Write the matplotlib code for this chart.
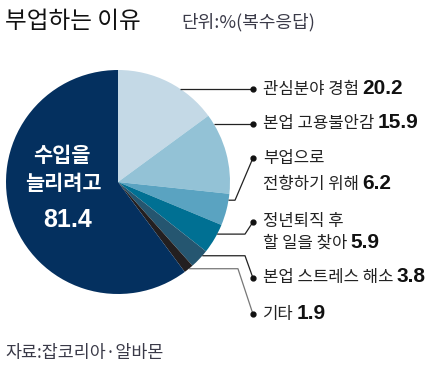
import matplotlib
matplotlib.use("Agg")
import numpy as np
import matplotlib.pyplot as plt

# --- Data ---
labels_kr = [["관심분야 경험"], ["본업 고용불안감"], ["부업으로", "전향하기 위해"],
             ["정년퇴직 후", "할 일을 찾아"], ["본업 스트레스 해소"], ["기타"]]
values = [20.2, 15.9, 6.2, 5.9, 3.8, 1.9]
main_label = ["수입을", "늘리려고"]
main_value = 81.4
colors = ["#c4d9e6", "#93c2d6", "#5aa3c1", "#007093", "#255670", "#231f20"]
main_color = "#04305f"

KR = ["Noto Sans CJK KR", "DejaVu Sans"]
NUM = ["Liberation Sans Narrow", "Liberation Sans", "DejaVu Sans"]

W, H = 447, 373
fig = plt.figure(figsize=(W / 100, H / 100), dpi=100)
fig.patch.set_facecolor("white")


def fx(x, y):
    return x / W, 1 - y / H


# pie: center (118,182) px, radius 112 px
ax = fig.add_axes([6 / W, (H - 182 - 112) / H, 224 / W, 224 / H])
wedges, _ = ax.pie(values + [main_value], colors=colors + [main_color],
                   startangle=90, counterclock=False, radius=1,
                   wedgeprops=dict(linewidth=0))
ax.set_xlim(-1, 1)
ax.set_ylim(-1, 1)
ax.axis("off")

# leader lines: where on the wedge they leave, elbow and dot (data units)
frac = [0.63, 0.12, 0.2, 0.33, 0.29, 0.47]
elbow_x = [None, None, 1.045, 1.134, 1.134, 1.071]
dot_x = 1.205
dot_y = [0.83, 0.518, 0.214, -0.357, -0.857, -1.179]
line_gap = [0, 0, 0.235, 0.19, 0, 0]
line_cols = ["#222222"] * 5 + ["#777777"]
text_x = 1.295

for i, w in enumerate(wedges[:-1]):
    th = np.deg2rad(w.theta2 - frac[i] * (w.theta2 - w.theta1))
    sx, sy = np.cos(th), np.sin(th)
    if elbow_x[i] is None:
        xs, ys = [sx, dot_x], [sy, sy]
    else:
        xs, ys = [sx, elbow_x[i], dot_x], [sy, sy, dot_y[i]]
    ax.plot(xs, ys, color=line_cols[i], lw=0.9, clip_on=False, solid_capstyle="butt")
    ax.plot(dot_x, dot_y[i], "o", color="#111111", ms=3.5, clip_on=False)

    lines = labels_kr[i]
    last = None
    for j, ln in enumerate(lines):
        last = ax.text(text_x, dot_y[i] - j * line_gap[i], ln, family=KR, fontsize=12,
                       color="#222222", va="center", ha="left", clip_on=False)
    ax.annotate(f"{values[i]}", xy=(1, 0), xycoords=last, xytext=(2, 0),
                textcoords="offset points", family=NUM, fontweight="bold",
                fontsize=15, color="#111111", va="bottom", ha="left")

# label inside the big slice
ax.text(-0.5, 0.24, main_label[0], family=KR, fontsize=15, fontweight="bold",
        color="white", ha="center", va="center")
ax.text(-0.49, -0.01, main_label[1], family=KR, fontsize=15, fontweight="bold",
        color="white", ha="center", va="center")
ax.text(-0.45, -0.34, f"{main_value}", family=["Liberation Sans", "DejaVu Sans"],
        fontsize=18, fontweight="bold", color="white", ha="center", va="center")

# title, unit, source
fig.text(*fx(5, 21), "부업하는 이유", family=KR, fontsize=17, fontweight="medium",
         color="#111111", ha="left", va="center")
fig.text(*fx(181, 22), "단위:%(복수응답)", family=KR, fontsize=13,
         color="#3a3a48", ha="left", va="center")
fig.text(*fx(5, 353), "자료:잡코리아·알바몬", family=KR, fontsize=12.5,
         color="#3a3a48", ha="left", va="center")

fig.savefig("out.png", dpi=100, facecolor="white")
